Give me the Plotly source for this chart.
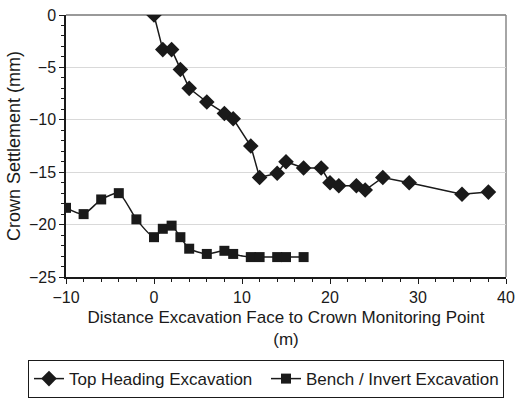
import plotly.graph_objects as go

top_x = [0, 1, 2, 3, 4, 6, 8, 9, 11, 12, 14, 15, 17, 19, 20, 21, 23, 24, 26, 29, 35, 38]
top_y = [0, -3.3, -3.3, -5.2, -7.0, -8.3, -9.4, -9.9, -12.5, -15.5, -15.1, -14.0, -14.6, -14.6,
         -16.0, -16.3, -16.3, -16.7, -15.5, -16.0, -17.1, -16.9]

bench_x = [-10, -8, -6, -4, -2, 0, 1, 2, 3, 4, 6, 8, 9, 11, 12, 14, 15, 17]
bench_y = [-18.4, -19.0, -17.6, -17.0, -19.5, -21.2, -20.4, -20.1, -21.2, -22.3, -22.8, -22.5,
           -22.8, -23.1, -23.1, -23.1, -23.1, -23.1]

x_title = "Distance Excavation Face to Crown Monitoring Point<br>(m)"
y_title = "Crown Settlement (mm)"

fig = go.Figure()
fig.add_trace(go.Scatter(x=top_x, y=top_y, mode="lines+markers", name="Top Heading Excavation",
                         line=dict(color="#1a1a1a", width=1.5),
                         marker=dict(symbol="diamond", size=12, color="#1a1a1a")))
fig.add_trace(go.Scatter(x=bench_x, y=bench_y, mode="lines+markers", name="Bench / Invert Excavation",
                         line=dict(color="#1a1a1a", width=1.5, shape="spline", smoothing=0.6),
                         marker=dict(symbol="square", size=10, color="#1a1a1a")))

axis_font = dict(family="Liberation Sans, Arial, sans-serif", size=16, color="#1a1a1a")
fig.update_layout(
    width=517, height=399,
    margin=dict(l=66, r=11, t=15, b=122, autoexpand=False),
    paper_bgcolor="white", plot_bgcolor="white",
    font=axis_font,
    showlegend=True,
    legend=dict(orientation="h", x=-0.0864, xanchor="left", y=-0.317, yanchor="top",
                bordercolor="#1a1a1a", borderwidth=1, font=dict(size=17),
                itemwidth=30, tracegroupgap=0, entrywidth=192, entrywidthmode="pixels"),
    xaxis=dict(range=[-10, 40], dtick=10, tick0=-10, showgrid=False, zeroline=False,
               showline=True, linecolor="#1a1a1a", linewidth=1.5,
               ticks="outside", ticklen=5, tickcolor="#1a1a1a",
               minor=dict(dtick=2, ticks="outside", ticklen=3, tickcolor="#1a1a1a", showgrid=False),
               title=dict(text=x_title, font=dict(size=17), standoff=6),
               tickfont=dict(size=16)),
    yaxis=dict(range=[-25, 0], dtick=5, showgrid=True, gridcolor="#d9d9d9", gridwidth=1,
               zeroline=False, showline=True, linecolor="#1a1a1a", linewidth=1.5,
               ticks="outside", ticklen=5, tickcolor="#1a1a1a",
               minor=dict(dtick=1, ticks="outside", ticklen=3, tickcolor="#1a1a1a", showgrid=False),
               title=dict(text=y_title, font=dict(size=18), standoff=4),
               tickfont=dict(size=16)),
)
fig.add_shape(type="line", xref="paper", yref="paper", x0=0, x1=1, y0=1, y1=1,
              line=dict(color="#999999", width=2), layer="below")
fig.add_shape(type="line", xref="paper", yref="paper", x0=1, x1=1, y0=0, y1=1,
              line=dict(color="#888888", width=1.5), layer="below")

fig.write_html("out.html")
